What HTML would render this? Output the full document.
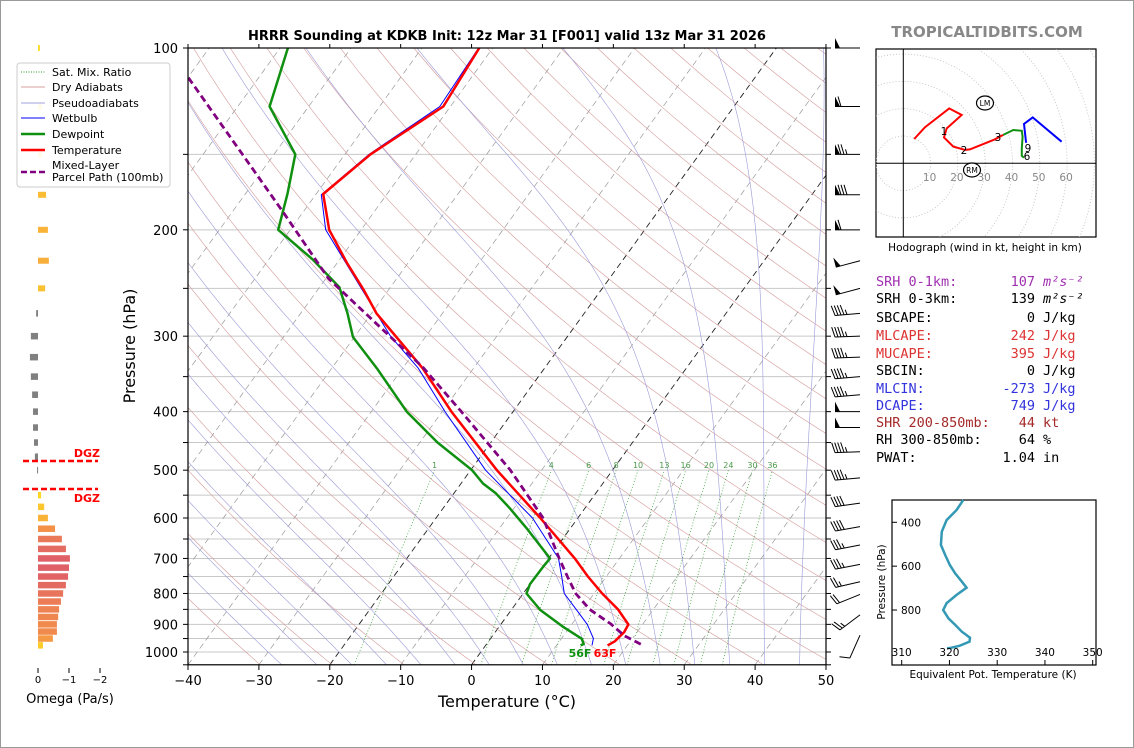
<!DOCTYPE html>
<html><head><meta charset="utf-8"><style>
body{margin:0;background:#fff;}
svg{display:block;font-family:"DejaVu Sans","Liberation Sans",sans-serif;}
.mono{font-family:"DejaVu Sans Mono","Liberation Mono",monospace;font-size:13.5px;}
</style></head><body>
<svg id="root" width="1134" height="748" viewBox="0 0 1134 748">
<rect x="0.5" y="0.5" width="1133" height="747" fill="#fff" stroke="#999"/>
<defs><clipPath id="mainclip"><rect x="188" y="48" width="638" height="616.8"/></clipPath>
<clipPath id="hodoclip"><rect x="876" y="49" width="220" height="188"/></clipPath></defs>
<text x="507" y="40" text-anchor="middle" font-size="13" font-weight="bold">HRRR Sounding at KDKB Init: 12z Mar 31 [F001] valid 13z Mar 31 2026</text>
<text x="987" y="37" text-anchor="middle" font-size="15" font-weight="bold" fill="#888">TROPICALTIDBITS.COM</text>
<g id="bg" clip-path="url(#mainclip)"></g>
<g id="prof" clip-path="url(#mainclip)"></g>
<g id="axes"></g>
<g id="barbs"></g>
<g id="omega"></g>
<g id="hodo"></g>
<g id="thetae"></g>
<text x="145" y="356" text-anchor="middle" font-size="16" transform="rotate(-90 135 356)">Pressure (hPa)</text>
<text x="507" y="707" text-anchor="middle" font-size="16">Temperature (°C)</text>
<text x="580" y="657" text-anchor="middle" font-size="11" font-weight="bold" fill="#109010">56F</text>
<text x="605" y="657" text-anchor="middle" font-size="11" font-weight="bold" fill="#f00">63F</text>
<g>
<rect x="17" y="63" width="153" height="124" rx="3" fill="#fff" fill-opacity="0.9" stroke="#ccc"/>
<line x1="21" y1="72" x2="45" y2="72" stroke="#2a9a2a" stroke-dasharray="1,1.5" stroke-width="1"/><text x="52" y="76" font-size="11">Sat. Mix. Ratio</text>
<line x1="21" y1="87" x2="45" y2="87" stroke="#d9a0a0" stroke-width="1"/><text x="52" y="91" font-size="11">Dry Adiabats</text>
<line x1="21" y1="103" x2="45" y2="103" stroke="#a0a0e0" stroke-width="1"/><text x="52" y="107" font-size="11">Pseudoadiabats</text>
<line x1="21" y1="118" x2="45" y2="118" stroke="#00f" stroke-width="1"/><text x="52" y="122" font-size="11">Wetbulb</text>
<line x1="21" y1="134" x2="45" y2="134" stroke="#109010" stroke-width="2.5"/><text x="52" y="138" font-size="11">Dewpoint</text>
<line x1="21" y1="150" x2="45" y2="150" stroke="#f00" stroke-width="2.5"/><text x="52" y="154" font-size="11">Temperature</text>
<line x1="21" y1="172" x2="45" y2="172" stroke="#800080" stroke-width="2.5" stroke-dasharray="6,3"/><text x="52" y="169" font-size="11">Mixed-Layer</text><text x="52" y="181" font-size="11">Parcel Path (100mb)</text>
</g>
<g class="mono">
<text x="876" y="286" fill="#a030b0">SRH 0-1km:</text><text x="1035" y="286" text-anchor="end" fill="#a030b0">107</text><text x="1043" y="286" fill="#a030b0" font-style="italic">m²s⁻²</text>
<text x="876" y="303">SRH 0-3km:</text><text x="1035" y="303" text-anchor="end">139</text><text x="1043" y="303" font-style="italic">m²s⁻²</text>
<text x="876" y="322">SBCAPE:</text><text x="1035" y="322" text-anchor="end">0</text><text x="1043" y="322">J/kg</text>
<text x="876" y="340" fill="#dd3333">MLCAPE:</text><text x="1035" y="340" text-anchor="end" fill="#dd3333">242</text><text x="1043" y="340" fill="#dd3333">J/kg</text>
<text x="876" y="358" fill="#dd3333">MUCAPE:</text><text x="1035" y="358" text-anchor="end" fill="#dd3333">395</text><text x="1043" y="358" fill="#dd3333">J/kg</text>
<text x="876" y="375">SBCIN:</text><text x="1035" y="375" text-anchor="end">0</text><text x="1043" y="375">J/kg</text>
<text x="876" y="393" fill="#3333dd">MLCIN:</text><text x="1035" y="393" text-anchor="end" fill="#3333dd">-273</text><text x="1043" y="393" fill="#3333dd">J/kg</text>
<text x="876" y="410" fill="#3333dd">DCAPE:</text><text x="1035" y="410" text-anchor="end" fill="#3333dd">749</text><text x="1043" y="410" fill="#3333dd">J/kg</text>
<text x="876" y="427" fill="#a52a2a">SHR 200-850mb:</text><text x="1035" y="427" text-anchor="end" fill="#a52a2a">44</text><text x="1043" y="427" fill="#a52a2a">kt</text>
<text x="876" y="444">RH 300-850mb:</text><text x="1035" y="444" text-anchor="end">64</text><text x="1043" y="444">%</text>
<text x="876" y="462">PWAT:</text><text x="1035" y="462" text-anchor="end">1.04</text><text x="1043" y="462">in</text>
</g>
</svg>
<script>
// ---- data ----
const tempP=[100,125,150,174.5,200,227,251,275,339,400,500,600,700,750,800,850,900,927,960,975];
const tempT=[-61.9,-61.0,-66.4,-69.0,-64.5,-58.6,-53.6,-49.3,-37.2,-28.7,-16.3,-5.3,3.7,7.4,11.15,15.0,18.0,18.2,17.8,17.2];
const dewP=[100,125,150,174,200,224,249,275,301,339,400,450,500,526,546,577,626,700,720,772,800,852,907,951,970,975];
const dewT=[-88.9,-85.5,-77,-74.1,-71.7,-63.8,-57.2,-53.4,-50.2,-43.65,-35,-27.5,-19.8,-16.9,-14.1,-10.7,-6,0.2,0.1,0.0,0.46,4.1,8.9,12.9,13.7,13.4];
const wbP=[100,125,150,175,200,250,300,339,400,500,600,700,750,800,850,900,950,975];
const wbT=[-62,-61.5,-66.6,-69.2,-65,-54,-45,-37.8,-29.6,-17.9,-6.4,1.4,3.7,5.8,9.1,12.2,14.5,15.0];
const parcelP=[112,187,241,338,400,500,600,700,750,800,850,900,940,976];
const parcelT=[-99.9,-72.8,-59.6,-37.2,-27.3,-14.4,-4.9,1.5,4.5,7.4,11.0,15.6,18.6,22.3];
const mixRatios=[1,4,6,8,10,13,16,20,24,30,36];
const pTickLabels=[100,200,300,400,500,600,700,800,900,1000];
const tTickLabels=[-40,-30,-20,-10,0,10,20,30,40,50];
const omegaP=[100,125,150,175,200,225,250,275,300,325,350,375,400,425,450,475,500,525,550,575,600,625,650,675,700,725,750,775,800,825,850,875,900,925,950,975];
const omegaV=[-0.06,-0.13,-0.13,-0.26,-0.32,-0.35,-0.23,0.06,0.23,0.26,0.23,0.19,0.16,0.16,0.13,0.1,0.03,0,-0.1,-0.2,-0.32,-0.55,-0.77,-0.9,-1.03,-1.0,-0.97,-0.9,-0.81,-0.74,-0.68,-0.65,-0.61,-0.61,-0.48,-0.16];
const barbP=[100,125,150,175,200,225,250,275,300,325,350,375,400,425,466,515,567,620,665,716,765,803,868,938];
const barbSpd=[50,60,75,80,60,50,50,45,45,45,45,45,50,50,45,45,40,40,35,35,25,20,25,10];
const barbDir=[270,270,270,270,270,255,255,265,268,268,265,265,270,270,268,265,262,260,259,259,257,248,233,204];
const hodoRedU=[4.0,7.9,16.8,21.4,15.9,14.9,18.3,22.6,24.4,33.6,36.6];
const hodoRedV=[8.9,13.2,20.1,17.7,12.8,9.5,6.1,4.9,5.1,8.8,10.4];
const hodoGreenU=[36.6,40.3,43.4,43.7,43.4,43.4,44.2];
const hodoGreenV=[10.4,12.2,11.9,9.7,5.5,2.7,2.1];
const hodoBlueU=[45.0,44.2,47.4,58.0];
const hodoBlueV=[7.5,14.4,16.8,7.9];
const thetaP=[298,344,390,443,503,549,595,633,671,698,731,769,800,838,868,899,926,944,963,972,975];
const thetaE=[322.9,321.5,319.4,318.4,318.2,319.1,320.1,321.2,322.6,323.6,321.5,319.4,318.7,319.8,321.2,322.6,324.3,324.2,322.1,320.4,319.5];

// ---- helpers ----
const NS="http://www.w3.org/2000/svg";
function mk(tag,parent,attrs){const e=document.createElementNS(NS,tag);for(const k in attrs)e.setAttribute(k,attrs[k]);parent.appendChild(e);return e;}
const yP=p=>48+604*Math.log10(p/100);
const xT=(T,p)=>188+(T+40)*7.089+0.724*(664.8-yP(p));
function poly(ps,ts){return ps.map((p,i)=>xT(ts[i],p).toFixed(1)+","+yP(p).toFixed(1)).join(" ");}
const bg=document.getElementById('bg'),prof=document.getElementById('prof'),axes=document.getElementById('axes');
const pAll=[];for(let p=1050;p>=100;p-=10)pAll.push(p);

// isobars
for(let p=100;p<=1050;p+=50){const l=mk('line',bg,{x1:188,x2:826,y1:yP(p),y2:yP(p),stroke:'#c8c8c8','stroke-width':1});
}
// isotherms
for(let T=-130;T<=50;T+=10){const l=mk('line',bg,{x1:xT(T,1050),y1:yP(1050),x2:xT(T,100),y2:yP(100),stroke:(T==0||T==-20)?'#222':'#999','stroke-width':(T==0||T==-20)?0.9:0.7,'stroke-dasharray':'6,4'});
}
// dry adiabats
for(let th=230;th<=500;th+=10){const pts=pAll.map(p=>xT(th*Math.pow(p/1000,0.2857)-273.15,p).toFixed(1)+","+yP(p).toFixed(1)).join(" ");
const l=mk('polyline',bg,{points:pts,fill:'none',stroke:'#d49a9a','stroke-width':0.6});}
// moist adiabats
function es(Tc){return 6.112*Math.exp(17.67*Tc/(Tc+243.5));}
function dTdp(T,p){const rs=0.622*es(T-273.15)/(p-es(T-273.15));return (287*T+2.5e6*rs)/(p*(1005+2.5e6*2.5e6*rs*0.622/(287*T*T)));}
for(let T0=-30;T0<=45;T0+=5){let T=T0+273.15,p=1000;const up=[[p,T]];
 while(p>100){const dp=-5;T+=dTdp(T,p)*dp;p+=dp;up.push([p,T]);}
 T=T0+273.15;p=1000;const dn=[];while(p<1050){const dp=5;T+=dTdp(T,p)*dp;p+=dp;dn.unshift([p,T]);}
 const all=dn.concat(up);const pts=all.map(a=>xT(a[1]-273.15,a[0]).toFixed(1)+","+yP(a[0]).toFixed(1)).join(" ");
 const l=mk('polyline',bg,{points:pts,fill:'none',stroke:'#9a9ad8','stroke-width':0.6});}
// mixing ratio
function tdw(w,p){const e=w*p/(622+w);const L=Math.log(e/6.112);return 243.5*L/(17.67-L);}
mixRatios.forEach(w=>{const ps=[];for(let p=1050;p>=500;p-=10)ps.push(p);
 const l=mk('polyline',bg,{points:ps.map(p=>xT(tdw(w,p),p).toFixed(1)+","+yP(p).toFixed(1)).join(" "),fill:'none',stroke:'#2a9a2a','stroke-width':0.7,'stroke-dasharray':'1,2'});
 
 const t=mk('text',bg,{x:xT(tdw(w,500),500),y:yP(500)-2,'text-anchor':'middle','font-size':8,fill:'#4a9a4a'});t.textContent=w;
 });

// profiles
function line(ps,ts,color,w,dash,name){const l=mk('polyline',prof,{points:poly(ps,ts),fill:'none',stroke:color,'stroke-width':w,'stroke-linejoin':'round'});if(dash)l.setAttribute('stroke-dasharray',dash);
 }
line(parcelP,parcelT,'#fff',4.5,null,'parcel-halo');
line(wbP,wbT,'#0000ff',1,null,'wetbulb-line');
line(dewP,dewT,'#109010',2.5,null,'dewpoint-line');
line(tempP,tempT,'#ff0000',2.5,null,'temperature-line');
line(parcelP,parcelT,'#800080',2.8,'7,4','parcel-path-line');

// main axes frame & ticks
const fr=mk('rect',axes,{x:188,y:48,width:638,height:616.8,fill:'none',stroke:'#000','stroke-width':1.2});

for(let p=100;p<=1050;p+=50){const y=yP(p);mk('line',axes,{x1:183,x2:188,y1:y,y2:y,stroke:'#000'});mk('line',axes,{x1:826,x2:831,y1:y,y2:y,stroke:'#000'});}
pTickLabels.forEach(p=>{const t=mk('text',axes,{x:178,y:yP(p)+5,'text-anchor':'end','font-size':13});t.textContent=p;
 });
tTickLabels.forEach(T=>{const x=188+(T+40)*7.089;mk('line',axes,{x1:x,x2:x,y1:664.8,y2:670,stroke:'#000'});mk('line',axes,{x1:x,x2:x,y1:48,y2:44,stroke:'#000'});
 const t=mk('text',axes,{x:x,y:685,'text-anchor':'middle','font-size':13});t.textContent=(T<0?'\u2212'+(-T):T);
 });

// wind barbs
const bb=document.getElementById('barbs');
barbP.forEach((p,i)=>{const bx=860,by=yP(p),L=25,a=barbDir[i]*Math.PI/180;const sx=Math.sin(a),sy=-Math.cos(a);const px=-sy,py=sx;
 const g=mk('g',bb,{});
 const tx=bx+sx*L,ty=by+sy*L;mk('line',g,{x1:bx,y1:by,x2:tx,y2:ty,stroke:'#000','stroke-width':1});
 let s=Math.round(barbSpd[i]/5)*5,d=0;
 while(s>=50){const x1=tx-sx*d,y1=ty-sy*d,x2=tx-sx*(d+5),y2=ty-sy*(d+5);
  mk('polygon',g,{points:`${x1},${y1} ${x2},${y2} ${x1+px*10},${y1+py*10}`,fill:'#000'});d+=6;s-=50;}
 while(s>=10){const x1=tx-sx*d,y1=ty-sy*d;mk('line',g,{x1:x1,y1:y1,x2:x1+px*10+sx*3,y2:y1+py*10+sy*3,stroke:'#000','stroke-width':1});d+=3;s-=10;}
 if(s>=5){if(d==0)d=3;const x1=tx-sx*d,y1=ty-sy*d;mk('line',g,{x1:x1,y1:y1,x2:x1+px*5+sx*1.5,y2:y1+py*5+sy*1.5,stroke:'#000','stroke-width':1});}
});

// omega panel
const om=document.getElementById('omega');
function omColor(v){const m=Math.min(1,Math.abs(v));const st=[[0,[255,230,30]],[0.5,[245,150,70]],[1,[224,96,104]]];
 let k=m<=0.5?0:1;const f=(m-st[k][0])/0.5;const c=st[k][1].map((c0,j)=>Math.round(c0+(st[k+1][1][j]-c0)*f));return `rgb(${c})`;}
omegaP.forEach((p,i)=>{const v=omegaV[i];if(v==0)return;const x0=38,w=-v*31;const y=yP(p),h=p<=250?6:6.5;
 const r=mk('rect',om,{x:w>=0?x0:x0+w,y:y-h/2,width:Math.max(1,Math.abs(w)),height:h,fill:v>0?'#808080':omColor(v)});
 });
[461,489].forEach(y=>{mk('line',om,{x1:23,x2:98,y1:y,y2:y,stroke:'#f00','stroke-width':2.5,'stroke-dasharray':'6,3'});});
mk('text',om,{x:100,y:457,'text-anchor':'end','font-size':11,'font-weight':'bold',fill:'#f00'}).textContent='DGZ';
mk('text',om,{x:100,y:502,'text-anchor':'end','font-size':11,'font-weight':'bold',fill:'#f00'}).textContent='DGZ';
[[0,'0'],[-1,'\u22121'],[-2,'\u22122']].forEach(a=>{const x=38-a[0]*31;mk('line',om,{x1:x,x2:x,y1:668,y2:673,stroke:'#000'});
 mk('text',om,{x:x,y:683,'text-anchor':'middle','font-size':10}).textContent=a[1];});
mk('text',om,{x:70,y:703,'text-anchor':'middle','font-size':13}).textContent='Omega (Pa/s)';

// hodograph
const ho=document.getElementById('hodo');const ox=903.3,oy=163.3,K=2.73;
mk('rect',ho,{x:876,y:49,width:220,height:188,fill:'#fff',stroke:'#000','stroke-width':1.2});
const hc=mk('g',ho,{'clip-path':'url(#hodoclip)'});
for(let r=10;r<=80;r+=10)mk('circle',hc,{cx:ox,cy:oy,r:r*K,fill:'none',stroke:'#bbb','stroke-width':0.8,'stroke-dasharray':'1,2'});
mk('line',hc,{x1:876,x2:1096,y1:oy,y2:oy,stroke:'#000','stroke-width':1});mk('line',hc,{x1:ox,x2:ox,y1:49,y2:237,stroke:'#000','stroke-width':1});
for(let r=10;r<=60;r+=10){const t=mk('text',hc,{x:ox+r*K-1,y:181,'text-anchor':'middle','font-size':10.5,fill:'#888'});t.textContent=r;}
function hline(U,V,c,name){const l=mk('polyline',hc,{points:U.map((u,i)=>(ox+u*K).toFixed(1)+","+(oy-V[i]*K).toFixed(1)).join(" "),fill:'none',stroke:c,'stroke-width':2});
 }
hline(hodoRedU,hodoRedV,'#f00','hodo-0-3km');hline(hodoGreenU,hodoGreenV,'#109010','hodo-3-6km');hline(hodoBlueU,hodoBlueV,'#00f','hodo-6-9km');
[['1',944,135],['2',964,154],['3',998,141],['9',1028,152],['6',1027,160]].forEach(a=>{mk('text',hc,{x:a[1],y:a[2],'text-anchor':'middle','font-size':10.5}).textContent=a[0];});
[['LM',985,103],['RM',972,170]].forEach(a=>{mk('ellipse',hc,{cx:a[1],cy:a[2],rx:8.5,ry:7,fill:'#fff',stroke:'#000','stroke-width':1.2});
 mk('text',hc,{x:a[1],y:a[2]+3,'text-anchor':'middle','font-size':7.5}).textContent=a[0];});
mk('text',ho,{x:985,y:251,'text-anchor':'middle','font-size':10.5}).textContent='Hodograph (wind in kt, height in km)';

// theta-e panel
const te=document.getElementById('thetae');const tx0=901.7,tk=4.775,ty=p=>522.3+(p-400)*0.2193;
mk('rect',te,{x:892,y:500,width:204,height:165,fill:'#fff',stroke:'#000','stroke-width':1.2});
const tl=mk('polyline',te,{points:thetaP.map((p,i)=>(tx0+(thetaE[i]-310)*tk).toFixed(1)+","+ty(p).toFixed(1)).join(" "),fill:'none',stroke:'#3399b5','stroke-width':2.5});

[400,600,800].forEach(p=>{mk('line',te,{x1:892,x2:897,y1:ty(p),y2:ty(p),stroke:'#000'});mk('text',te,{x:901,y:ty(p)+4,'font-size':10.5}).textContent=p;});
[310,320,330,340,350].forEach(k=>{const x=tx0+(k-310)*tk;mk('line',te,{x1:x,x2:x,y1:660,y2:665,stroke:'#000'});mk('text',te,{x:x,y:656,'text-anchor':'middle','font-size':10.5}).textContent=k;});
mk('text',te,{x:993,y:678,'text-anchor':'middle','font-size':10.5}).textContent='Equivalent Pot. Temperature (K)';
mk('text',te,{x:885,y:582,'text-anchor':'middle','font-size':10.5,transform:'rotate(-90 885 582)'}).textContent='Pressure (hPa)';
</script>
</body></html>
